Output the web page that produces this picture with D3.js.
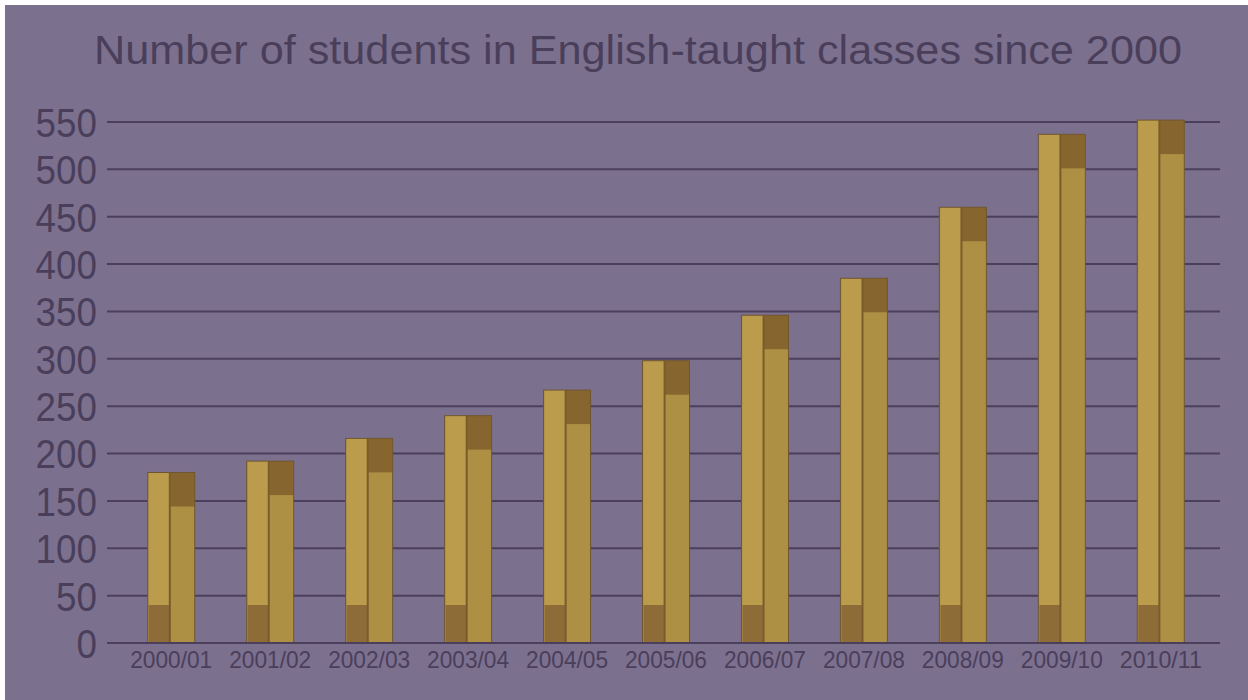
<!DOCTYPE html>
<html>
<head>
<meta charset="utf-8">
<script src="https://cdn.jsdelivr.net/npm/d3@7"></script>
<style>
  body { margin: 0; background: #ffffff; }
  svg { display: block; font-family: "Liberation Sans", Arial, sans-serif; }
</style>
</head>
<body>
<div id="chart"></div>
<script>
// Data
const years = ["2000/01", "2001/02", "2002/03", "2003/04", "2004/05", "2005/06",
               "2006/07", "2007/08", "2008/09", "2009/10", "2010/11"];
const students = [180, 192, 216, 240, 267, 298, 346, 385, 460, 537, 552];
const yTicks = [0, 50, 100, 150, 200, 250, 300, 350, 400, 450, 500, 550];
const title = "Number of students in English-taught classes since 2000";

const width = 1248, height = 700;

const svg = d3.select("#chart")
    .append("svg")
    .attr("width", width)
    .attr("height", height);

// Background panel (thin white frame at top / left)
svg.append("rect")
    .attr("x", 5).attr("y", 5)
    .attr("width", width - 5).attr("height", height - 5)
    .attr("fill", "#7c708f");

// Scales
const x = d3.scaleBand().domain(years).range([122, 1210]).paddingInner(0.525).paddingOuter(0.26);
const y = d3.scaleLinear().domain([0, 550]).range([643, 122]);

// Grid lines
svg.append("g")
    .selectAll("line")
    .data(yTicks)
    .enter().append("line")
    .attr("x1", 107)
    .attr("x2", 1220)
    .attr("y1", d => y(d))
    .attr("y2", d => y(d))
    .attr("stroke", "#4b3f5c")
    .attr("stroke-width", 2);

// Y axis labels
const yAxis = d3.axisLeft(y).tickValues(yTicks).tickSize(0).tickPadding(0);
const yg = svg.append("g")
    .attr("transform", "translate(97,0)")
    .call(yAxis);
yg.select(".domain").remove();
yg.selectAll("text")
    .attr("fill", "#4a3f5b")
    .style("font-size", "40px")
    .attr("dy", "0.36em")
    .attr("transform", "scale(0.92,1)")
    .attr("x", 0);

// Bars
const bw = x.bandwidth();
const bars = svg.append("g")
    .selectAll("g")
    .data(years.map((d, i) => ({ year: d, value: students[i] })))
    .enter().append("g")
    .attr("transform", d => "translate(" + x(d.year) + ",0)");

// main body
bars.append("rect")
    .attr("x", 0)
    .attr("y", d => y(d.value))
    .attr("width", bw)
    .attr("height", d => y(0) - y(d.value))
    .attr("fill", "#ae9045");

// lighter left face
bars.append("rect")
    .attr("x", 1)
    .attr("y", d => y(d.value))
    .attr("width", bw * 0.45)
    .attr("height", d => y(0) - y(d.value))
    .attr("fill", "#bb9c4c");

// dark top cap on the right face
bars.append("rect")
    .attr("x", bw * 0.48)
    .attr("y", d => y(d.value))
    .attr("width", bw * 0.52)
    .attr("height", 34)
    .attr("fill", "#86652f");

// dark bottom patch on the left face
bars.append("rect")
    .attr("x", 1)
    .attr("y", y(0) - 38)
    .attr("width", bw * 0.45)
    .attr("height", 38)
    .attr("fill", "#8e6c38");

// divider line between faces
bars.append("line")
    .attr("x1", bw * 0.47)
    .attr("x2", bw * 0.47)
    .attr("y1", d => y(d.value))
    .attr("y2", y(0))
    .attr("stroke", "#7a5c2c")
    .attr("stroke-width", 2);

// outline edges
bars.append("rect")
    .attr("x", 0)
    .attr("y", d => y(d.value))
    .attr("width", bw)
    .attr("height", d => y(0) - y(d.value))
    .attr("fill", "none")
    .attr("stroke", "#6f5630")
    .attr("stroke-width", 1);

// Baseline
svg.append("line")
    .attr("x1", 107).attr("x2", 1220)
    .attr("y1", y(0)).attr("y2", y(0))
    .attr("stroke", "#4b3f5c")
    .attr("stroke-width", 2);

// X axis labels
const xAxis = d3.axisBottom(x).tickSize(0).tickPadding(0);
const xg = svg.append("g")
    .attr("transform", "translate(0," + (y(0) + 8) + ")")
    .call(xAxis);
xg.select(".domain").remove();
xg.selectAll("text")
    .attr("fill", "#4a3f5b")
    .style("font-size", "24px")
    .attr("dy", "0.71em")
    .attr("textLength", 82)
    .attr("lengthAdjust", "spacingAndGlyphs");

// Title
svg.append("text")
    .attr("x", 638)
    .attr("y", 64)
    .attr("text-anchor", "middle")
    .attr("fill", "#4a3f5b")
    .style("font-size", "40px")
    .attr("textLength", 1088)
    .attr("lengthAdjust", "spacingAndGlyphs")
    .text(title);
</script>
</body>
</html>
